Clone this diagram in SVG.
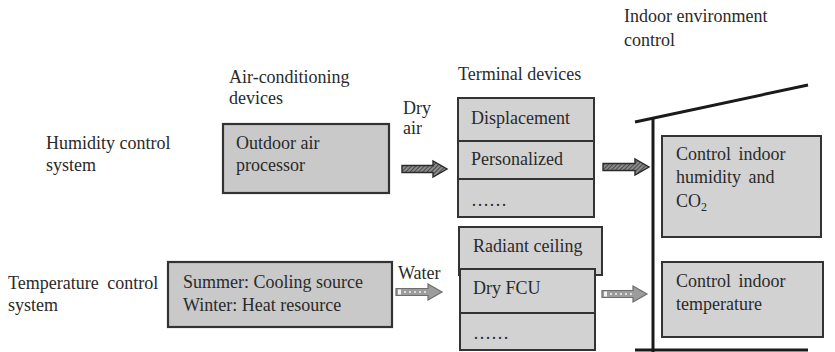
<svg xmlns="http://www.w3.org/2000/svg" width="835" height="352" viewBox="0 0 835 352">
<defs>
<style>
text{font-family:"Liberation Serif","Times New Roman",serif;font-size:18px;fill:#2a2a2a}
.box{fill:#d2d2d2;stroke:#333;stroke-width:2}
.box2{fill:#c9c9c9;stroke:#333;stroke-width:2.2}
.div{stroke:#333;stroke-width:2;fill:none}
.wall{stroke:#1a1a1a;stroke-width:3;fill:none}
.arrA{fill:url(#hatch);stroke:#2b2b2b;stroke-width:1.4}
.arrB{fill:#9c9c9c;stroke:#6e6e6e;stroke-width:1.2}
.dash{stroke:#f2f2f2;stroke-width:1.6;stroke-dasharray:2 3;fill:none}
</style>
<pattern id="hatch" width="3" height="3" patternUnits="userSpaceOnUse" patternTransform="rotate(45)">
<rect width="3" height="3" fill="#8a8a8a"/>
<line x1="0" y1="0" x2="0" y2="3" stroke="#2e2e2e" stroke-width="1.4"/>
</pattern>
</defs>
<rect width="835" height="352" fill="#ffffff"/>

<g id="labels">
<text x="624" y="22">Indoor environment</text>
<text x="624" y="46">control</text>
<text x="229" y="83">Air-conditioning</text>
<text x="229" y="104">devices</text>
<text x="458" y="80">Terminal devices</text>
<text x="46" y="149">Humidity control</text>
<text x="46" y="171">system</text>
<text x="8" y="289" word-spacing="4">Temperature control</text>
<text x="8" y="311">system</text>
</g>

<g id="outdoor-air-processor">
<rect class="box2" x="223" y="124" width="166" height="69"/>
<text x="236" y="149">Outdoor air</text>
<text x="236" y="171">processor</text>
</g>

<g id="heat-source">
<rect class="box2" x="168" y="262" width="224" height="65"/>
<text x="183" y="288">Summer: Cooling source</text>
<text x="183" y="311">Winter: Heat resource</text>
</g>

<g id="terminal-air">
<rect class="box" x="458" y="98" width="136" height="119"/>
<line class="div" x1="458" y1="141" x2="594" y2="141"/>
<line class="div" x1="458" y1="179" x2="594" y2="179"/>
<text x="471" y="124">Displacement</text>
<text x="471" y="165">Personalized</text>
<text x="471" y="206">……</text>
</g>

<g id="terminal-water">
<rect class="box" x="459" y="227" width="143" height="48"/>
<text x="473" y="252">Radiant ceiling</text>
<rect class="box" x="460" y="269" width="135" height="81"/>
<line class="div" x1="460" y1="313" x2="595" y2="313"/>
<text x="473" y="294">Dry FCU</text>
<text x="473" y="339">……</text>
</g>

<g id="building">
<line class="wall" x1="653" y1="118" x2="653" y2="352"/>
<line class="wall" x1="635" y1="122" x2="808" y2="85"/>
<line class="wall" x1="635" y1="350" x2="808" y2="350"/>
</g>

<g id="indoor-humidity">
<rect class="box" x="662" y="136" width="159" height="101"/>
<text x="676" y="160" word-spacing="3">Control indoor</text>
<text x="676" y="183" word-spacing="3">humidity and</text>
<text x="676" y="207">CO<tspan font-size="12" dy="4">2</tspan></text>
</g>

<g id="indoor-temperature">
<rect class="box" x="662" y="262" width="161" height="75"/>
<text x="676" y="287" word-spacing="3">Control indoor</text>
<text x="676" y="310">temperature</text>
</g>

<g id="connectors">
<text x="403" y="114">Dry</text>
<text x="403" y="134">air</text>
<polygon class="arrA" points="402,165.5 433,165.5 433,161 447,169 433,177 433,172.5 402,172.5"/>
<polygon class="arrA" points="603,163.5 635,163.5 635,159 649,167 635,175 635,170.5 603,170.5"/>
<text x="398" y="279">Water</text>
<polygon class="arrB" points="396,288.5 428,288.5 428,284 442,292 428,300 428,295.5 396,295.5"/>
<rect x="398" y="289.5" width="3" height="5" fill="#f2f2f2"/>
<line class="dash" x1="404" y1="292" x2="428" y2="292"/>
<polygon class="arrB" points="602,290.5 633,290.5 633,286 647,294 633,302 633,297.5 602,297.5"/>
<rect x="604" y="291.5" width="3" height="5" fill="#f2f2f2"/>
<line class="dash" x1="610" y1="294" x2="633" y2="294"/>
</g>
</svg>
